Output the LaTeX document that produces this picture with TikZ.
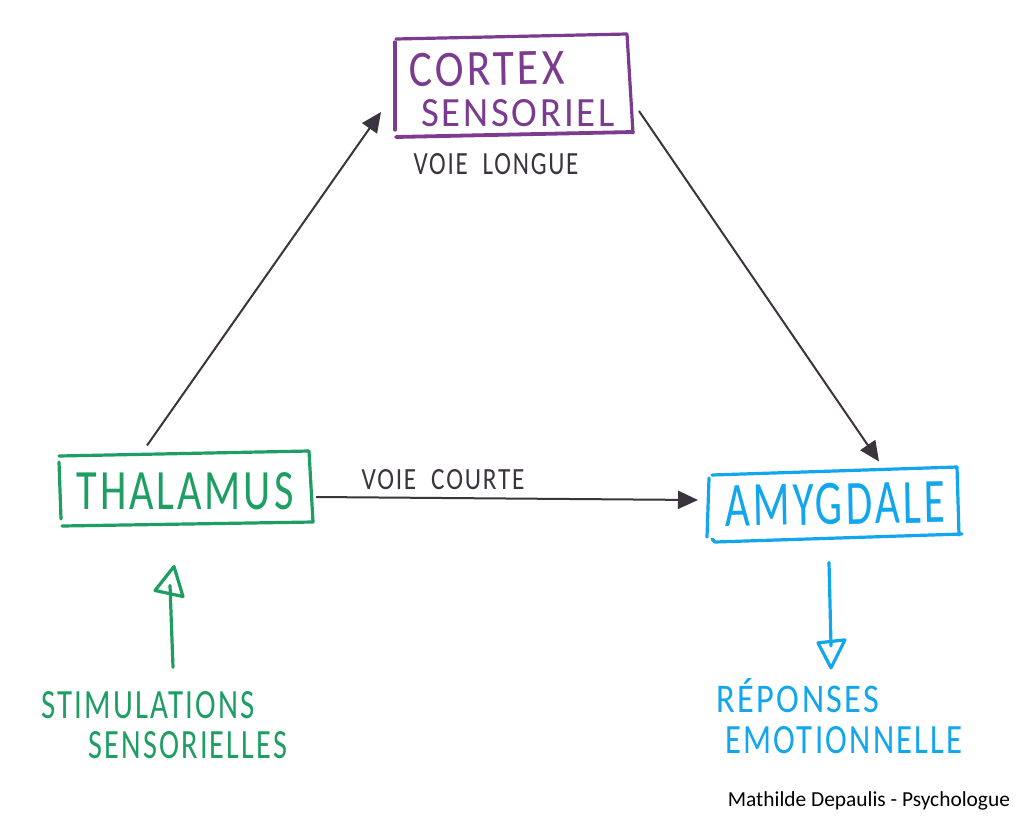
\documentclass[tikz,border=0pt]{standalone}
\usepackage{fontspec}
\usepackage{graphicx}
\setmainfont{Carlito}
\newfontfamily\handfont[LetterSpace=7]{Carlito}
\usetikzlibrary{arrows.meta,calc}
\definecolor{pen}{HTML}{3B343E}
\definecolor{purplepen}{HTML}{7B3B8E}
\definecolor{greenpen}{HTML}{1F9E64}
\definecolor{bluepen}{HTML}{12A6EE}
\newcommand{\handtext}[3]{\resizebox{#1pt}{#2pt}{\fontsize{40}{40}\handfont #3}}
\tikzset{
  x=1pt,y=-1pt,
  region/.style={inner sep=0pt,outer sep=0pt,anchor=center},
  word/.style={inner sep=0pt,outer sep=0pt,anchor=center},
  stroke/.style={line width=3.2pt,line cap=round,line join=round},
  conn/.style={line width=2pt,color=pen,-{Triangle[length=20pt,width=18pt]}},
}
\begin{document}
\begin{tikzpicture}
\useasboundingbox[fill=white] (0,0) rectangle (1024,827);

% box regions
\node[region,minimum width=238pt,minimum height=100pt] (cortex) at (514,85) {};
\node[region,minimum width=254pt,minimum height=75pt] (thal) at (186,488) {};
\node[region,minimum width=252pt,minimum height=75pt] (amyg) at (834,505) {};

% hand-drawn box outlines
\draw[stroke,purplepen] (396,39) -- (627,34) -- (633,133);
\draw[stroke,purplepen] (395,42) -- (395,130);
\draw[stroke,purplepen,line width=3.8pt] (396,137) -- (633,132);
\draw[stroke,greenpen] (59,456) -- (309,451) -- (313,522);
\draw[stroke,greenpen] (59,462) -- (61,519);
\draw[stroke,greenpen] (62,526) -- (313,522);
\draw[stroke,bluepen] (712,475) -- (957,467) -- (959,535);
\draw[stroke,bluepen] (709,478) -- (707,537);
\draw[stroke,bluepen] (712,539) -- (715,542) -- (962,534);

% box labels
\node[word,text=purplepen,rotate=1] (t1) at (487,69) {\handtext{155}{33}{CORTEX}};
\node[word,text=purplepen] (t2) at (518,113) {\handtext{193}{27}{SENSORIEL}};
\node[word,text=greenpen] (t3) at (185,491) {\handtext{217}{37}{THALAMUS}};
\node[word,text=bluepen,rotate=1] (t4) at (835,504) {\handtext{220}{41}{AMYGDALE}};

% free labels
\node[word,text=pen] (voielongue) at (496,164) {\handtext{165}{21}{VOIE\ \ LONGUE}};
\node[word,text=pen] (voiecourte) at (443,480) {\handtext{163}{20}{VOIE\ \ COURTE}};
\node[word,text=greenpen] (stim1) at (148,705) {\handtext{213}{27}{STIMULATIONS}};
\node[word,text=greenpen] (stim2) at (188,745) {\handtext{198}{27}{SENSORIELLES}};
\node[word,text=bluepen] (rep1) at (798,696) {\handtext{163}{34}{RÉPONSES}};
\node[word,text=bluepen] (rep2) at (844,740) {\handtext{238}{27}{EMOTIONNELLE}};
\node[word,text=black,font=\fontsize{21.4}{22}\selectfont,anchor=east] (credit) at (1010,801) {Mathilde Depaulis - Psychologue};

% black connectors
\draw[conn] ($(thal.north west)+(88,-5)$) -- ($(cortex.south west)+(-14,-23)$);
\draw[conn] ($(cortex.south east)+(6,-24)$) -- ($(amyg.north west)+(171,-6)$);
\draw[conn] ($(thal.east)+(3,9)$) -- ($(amyg.west)+(-10,-5)$);

% green input arrow
\draw[stroke,greenpen] ($(stim1.north)+(25,-24)$) -- ($(thal.south)+(-16,60)$);
\draw[stroke,greenpen] ($(thal.south)+(-12,41)$) -- ($(thal.south)+(-31,65)$) -- ($(thal.south)+(-3,71)$) -- cycle;

% blue output arrow
\draw[stroke,bluepen] ($(amyg.south)+(-5,20)$) -- ($(rep1.north)+(33,-33)$);
\draw[stroke,bluepen] ($(rep1.north)+(20,-36)$) -- ($(rep1.north)+(47,-39)$) -- ($(rep1.north)+(33,-11)$) -- cycle;
\end{tikzpicture}
\end{document}
